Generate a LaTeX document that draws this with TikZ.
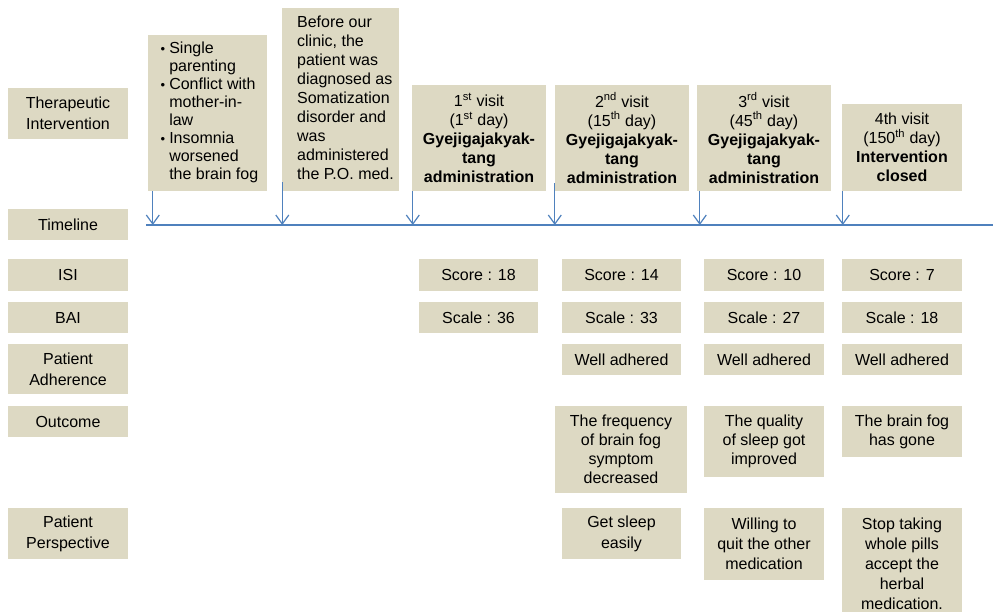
\documentclass[tikz,border=0pt]{standalone}
\usepackage{fontspec}
\setmainfont{Liberation Sans}
\usetikzlibrary{arrows.meta}
\definecolor{boxc}{HTML}{DDD9C3}
\definecolor{linec}{HTML}{4F81BD}
\tikzset{
  box/.style={fill=boxc, inner sep=0pt, align=center, font=\fontsize{16}{19}\selectfont},
  lbl/.style={box, minimum width=120pt, font=\fontsize{16}{21}\selectfont},
  arr/.style={draw=linec, line width=1.2pt, -{Straight Barb[length=9pt,width=13pt,line width=1.2pt]}},
  tline/.style={draw=linec, line width=2pt}
}
\newcommand{\bul}{{\fontsize{13}{18}\selectfont\textbullet}}
\begin{document}
\begin{tikzpicture}[x=1pt,y=-1pt]
\useasboundingbox (0,0) rectangle (993,611);
% left labels
\node[lbl, minimum height=51pt] (lTI) at (68,113.5) {Therapeutic\\Intervention};
\node[lbl, minimum height=31pt] (lTL) at (68,224.5) {Timeline};
\node[lbl, minimum height=32pt] (lISI) at (68,275) {ISI};
\node[lbl, minimum height=31pt] (lBAI) at (68,317.5) {BAI};
\node[lbl, minimum height=50pt] (lPA) at (68,369) {Patient\\Adherence};
\node[lbl, minimum height=31pt] (lOut) at (68,421.5) {Outcome};
\node[lbl, minimum height=51pt] (lPP) at (68,533.5) {Patient\\Perspective};
% top boxes
\node[box, minimum width=119pt, minimum height=156pt, font=\fontsize{16}{18}\selectfont] (b1) at (207.5,113) {%
\begin{tabular}{@{\hspace{4pt}}l@{\hspace{4pt}}l@{}}
\bul & Single\\ & parenting\\
\bul & Conflict with\\ & mother-in-\\ & law\\
\bul & Insomnia\\ & worsened\\ & the brain fog
\end{tabular}};
\node[box, minimum width=117pt, minimum height=183pt] (b2) at (340.5,99.5) {%
\begin{tabular}{@{\hspace{10pt}}l@{}}
Before our\\ clinic, the\\ patient was\\ diagnosed as\\ Somatization\\ disorder and\\ was\\ administered\\ the P.O. med.
\end{tabular}};
\node[box, minimum width=134pt, minimum height=106pt] (b3) at (479,138) {1\textsuperscript{st} visit\\(1\textsuperscript{st} day)\\\textbf{Gyejigajakyak-}\\\textbf{tang}\\\textbf{administration}};
\node[box, minimum width=134pt, minimum height=106pt] (b4) at (622,138) {2\textsuperscript{nd} visit\\(15\textsuperscript{th} day)\\\textbf{Gyejigajakyak-}\\\textbf{tang}\\\textbf{administration}};
\node[box, minimum width=134pt, minimum height=106pt] (b5) at (764,138) {3\textsuperscript{rd} visit\\(45\textsuperscript{th} day)\\\textbf{Gyejigajakyak-}\\\textbf{tang}\\\textbf{administration}};
\node[box, minimum width=120pt, minimum height=87pt] (b6) at (902,147.5) {4th visit\\(150\textsuperscript{th} day)\\\textbf{Intervention}\\\textbf{closed}};
% timeline
\coordinate (tA) at (146,225);
\coordinate (tB) at (993,225);
\draw[tline] (tA) -- (tB);
\draw[arr] ([xshift=5pt]b1.south west) coordinate (a1) -- (a1 |- tA);
\draw[arr] ([xshift=0.5pt,yshift=9pt]b2.south west) coordinate (a2) -- (a2 |- tA);
\draw[arr] ([xshift=1pt]b3.south west) coordinate (a3) -- (a3 |- tA);
\draw[arr] ([xshift=0pt,yshift=8pt]b4.south west) coordinate (a4) -- (a4 |- tA);
\draw[arr] ([xshift=3pt]b5.south west) coordinate (a5) -- (a5 |- tA);
\draw[arr] ([xshift=1pt]b6.south west) coordinate (a6) -- (a6 |- tA);
% ISI
\node[box, minimum width=119pt, minimum height=32pt] (i1) at (478.5,275) {Score : 18};
\node[box, minimum width=119pt, minimum height=32pt] (i2) at (621.5,275) {Score : 14};
\node[box, minimum width=120pt, minimum height=32pt] (i3) at (764,275) {Score : 10};
\node[box, minimum width=120pt, minimum height=32pt] (i4) at (902,275) {Score : 7};
% BAI
\node[box, minimum width=119pt, minimum height=31pt] (s1) at (478.5,317.5) {Scale : 36};
\node[box, minimum width=119pt, minimum height=31pt] (s2) at (621.5,317.5) {Scale : 33};
\node[box, minimum width=120pt, minimum height=31pt] (s3) at (764,317.5) {Scale : 27};
\node[box, minimum width=120pt, minimum height=31pt] (s4) at (902,317.5) {Scale : 18};
% adherence
\node[box, minimum width=119pt, minimum height=31pt] (h2) at (621.5,359.5) {Well adhered};
\node[box, minimum width=120pt, minimum height=31pt] (h3) at (764,359.5) {Well adhered};
\node[box, minimum width=120pt, minimum height=31pt] (h4) at (902,359.5) {Well adhered};
% outcome
\node[box, minimum width=132pt, minimum height=87pt] (o2) at (621,449.5) {The frequency\\of brain fog\\symptom\\decreased};
\node[box, minimum width=120pt, minimum height=71pt] (o3) at (764,441.5) {The quality\\of sleep got\\improved};
\node[box, minimum width=120pt, minimum height=51pt] (o4) at (902,431.5) {The brain fog\\has gone};
% perspective
\node[box, minimum width=119pt, minimum height=51pt, font=\fontsize{16}{21}\selectfont] (p2) at (621.5,533.5) {Get sleep\\easily};
\node[box, minimum width=120pt, minimum height=72pt, font=\fontsize{16}{20}\selectfont] (p3) at (764,544) {Willing to\\quit the other\\medication};
\node[box, minimum width=120pt, minimum height=111pt, font=\fontsize{16}{20}\selectfont] (p4) at (902,563.5) {Stop taking\\whole pills\\accept the\\herbal\\medication.};
\end{tikzpicture}
\end{document}
